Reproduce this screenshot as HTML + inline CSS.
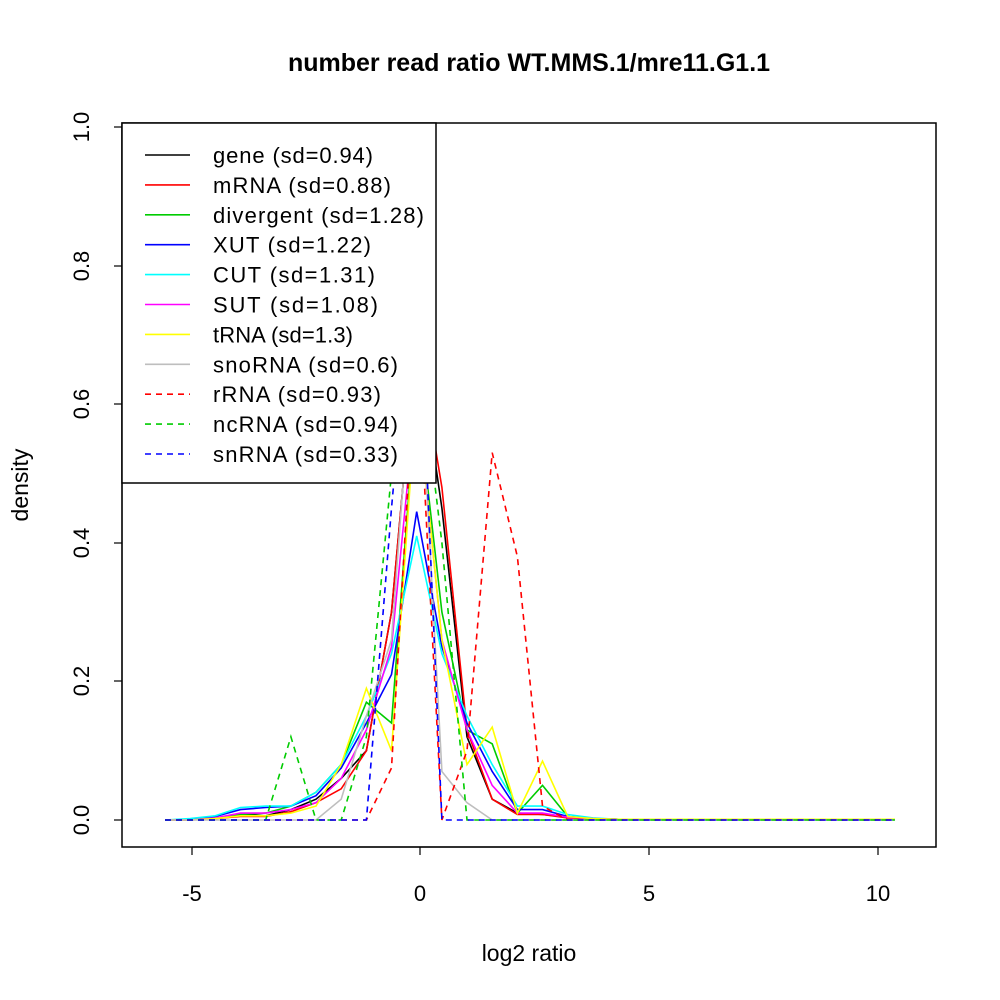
<!DOCTYPE html>
<html><head><meta charset="utf-8"><style>body{margin:0;background:#fff}svg{display:block}text{font-family:"Liberation Sans",sans-serif}</style></head><body>
<svg id="s" width="1000" height="1000" xmlns="http://www.w3.org/2000/svg">
<rect width="1000" height="1000" fill="#fff"/>
<g id="lines" fill="none" stroke-width="1.6"></g>
<rect x="122" y="123" width="814" height="724" fill="none" stroke="#000" stroke-width="1.5"/>
<text x="529" y="71" font-size="25" font-weight="bold" text-anchor="middle">number read ratio WT.MMS.1/mre11.G1.1</text>
<text x="529" y="961" font-size="23" text-anchor="middle">log2 ratio</text>
<text transform="translate(28,485) rotate(-90)" font-size="23" text-anchor="middle">density</text>
<g stroke="#000" stroke-width="1.2">
<line x1="192" y1="847" x2="878" y2="847"/>
<line x1="192" y1="847" x2="192" y2="855"/><line x1="420" y1="847" x2="420" y2="855"/><line x1="649" y1="847" x2="649" y2="855"/><line x1="878" y1="847" x2="878" y2="855"/>
<line x1="122" y1="820" x2="122" y2="127"/>
<line x1="114" y1="820" x2="122" y2="820"/><line x1="114" y1="681" x2="122" y2="681"/><line x1="114" y1="543" x2="122" y2="543"/><line x1="114" y1="404" x2="122" y2="404"/><line x1="114" y1="266" x2="122" y2="266"/><line x1="114" y1="127" x2="122" y2="127"/>
</g>
<g font-size="22" text-anchor="middle">
<text x="192" y="901">-5</text><text x="420" y="901">0</text><text x="649" y="901">5</text><text x="878" y="901">10</text>
<text transform="translate(89,820) rotate(-90)">0.0</text>
<text transform="translate(89,681) rotate(-90)">0.2</text>
<text transform="translate(89,543) rotate(-90)">0.4</text>
<text transform="translate(89,404) rotate(-90)">0.6</text>
<text transform="translate(89,266) rotate(-90)">0.8</text>
<text transform="translate(89,127) rotate(-90)">1.0</text>
</g>
<rect x="122" y="123" width="314" height="360" fill="#fff" stroke="#000" stroke-width="1.5"/>
<g id="leg" font-size="22"></g>
</svg>
<script>
var S=[
["#000","",[0,0,.002,.008,.006,.015,.03,.06,.1,.3,.7,.45,.12,.03,.01,.008,.004,.002,.001]],
["#f00","",[0,0,.002,.005,.005,.012,.025,.045,.1,.3,.7,.48,.13,.03,.008,.008,.003,.002,.001]],
["#0c0","",[0,0,.003,.008,.01,.02,.04,.08,.17,.14,.62,.3,.13,.11,.01,.05,.005,.002,.001]],
["#00f","",[0,.001,.005,.015,.018,.02,.035,.075,.14,.21,.445,.25,.14,.07,.015,.015,.005,.002,.001]],
["#0ff","",[0,.002,.006,.018,.02,.02,.04,.08,.15,.24,.41,.24,.15,.08,.02,.02,.008,.003,.001]],
["#f0f","",[0,0,.003,.01,.01,.015,.025,.06,.13,.25,.62,.26,.13,.05,.01,.01,.004,.002,.001]],
["#ff0","",[0,0,.002,.006,.006,.01,.02,.08,.19,.1,.62,.26,.08,.134,.01,.085,.005,.002,.001]],
["#bebebe","",[0,0,0,0,0,0,0,.03,.15,.26,.75,.07,.025,0,0,0,0,0,0]],
["#f00","6,5",[0,0,0,0,0,0,0,0,0,.075,.7,0,.1,.53,.38,.02,0,0,0]],
["#0c0","6,5",[0,0,0,0,0,.12,0,0,.12,.5,.7,.4,0,0,0,0,0,0,0]],
["#00f","6,5",[0,0,0,0,0,0,0,0,0,.45,.85,0,0,0,0,0,0,0,0]]
];
var names=["gene (sd=0.94)","mRNA (sd=0.88)","divergent (sd=1.28)","XUT (sd=1.22)","CUT (sd=1.31)","SUT (sd=1.08)","tRNA (sd=1.3)","snoRNA (sd=0.6)","rRNA (sd=0.93)","ncRNA (sd=0.94)","snRNA (sd=0.33)"];
var g=document.getElementById('lines'),L=document.getElementById('leg'),ns="http://www.w3.org/2000/svg";
S.forEach(function(s,k){var p=[];for(var i=0;i<30;i++){var d=i<s[2].length?s[2][i]:(k<7?0.001:0);p.push((165+i*25.17).toFixed(1)+","+(820-693*d).toFixed(1));}
var e=document.createElementNS(ns,"polyline");e.setAttribute("points",p.join(" "));e.setAttribute("stroke",s[0]);if(s[1])e.setAttribute("stroke-dasharray",s[1]);g.appendChild(e);
var y=155+k*29.9;var l=document.createElementNS(ns,"line");l.setAttribute("x1",145);l.setAttribute("x2",190);l.setAttribute("y1",y);l.setAttribute("y2",y);l.setAttribute("stroke",s[0]);l.setAttribute("stroke-width",1.6);if(s[1])l.setAttribute("stroke-dasharray",s[1]);L.appendChild(l);
var t=document.createElementNS(ns,"text");t.setAttribute("x",213);t.setAttribute("y",y+8);t.setAttribute("textLength",{0:160,1:178,2:211,3:158,4:162,5:165,6:140,7:185,8:168,9:185,10:185}[k]);t.textContent=names[k];L.appendChild(t);});
</script>
</body></html>
